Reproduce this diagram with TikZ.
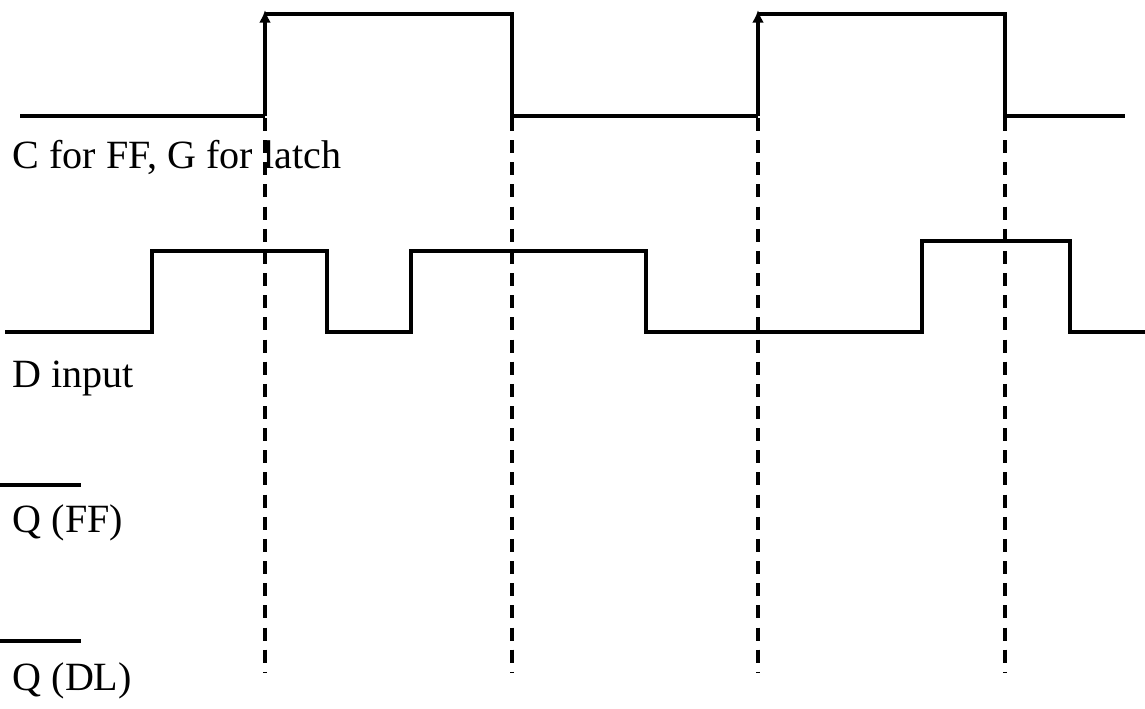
\documentclass[tikz,border=0pt]{standalone}
\usepackage{fontspec}
\setmainfont{Liberation Serif}
\usetikzlibrary{arrows.meta}
\begin{document}
\begin{tikzpicture}[
    x=0.01cm, y=-0.01cm,
    signal/.style={line width=1.1pt, line join=miter},
    front/.style={signal, -{Latex[length=3.6pt,width=3.4pt]}},
    repere/.style={line width=1.1pt, dash pattern=on 3.7pt off 2.6pt},
    etiquette/.style={anchor=base west, inner sep=0pt, font=\fontsize{11.4}{13}\selectfont}
]
\useasboundingbox (0,0) rectangle (1145,709);

% Horloge
\draw[signal] (20,116) -- (265,116);
\draw[front] (265,116) -- (265,10);
\draw[signal] (265,14) -- (512,14) -- (512,116) -- (758,116);
\draw[front] (758,116) -- (758,10);
\draw[signal] (758,14) -- (1005,14) -- (1005,116) -- (1125,116);

% Entree D
\draw[signal] (5,332) -- (152,332) -- (152,251) -- (327,251) -- (327,332)
    -- (411,332) -- (411,251) -- (646,251) -- (646,332) -- (922,332)
    -- (922,241) -- (1070,241) -- (1070,332) -- (1145,332);

% Reperes des fronts
\foreach \x in {265,512,758,1005}
    \draw[repere] (\x,118) -- (\x,672);

% Noms des signaux
\node[etiquette] (horloge) at (12,168) {C for FF, G for latch};
\node[etiquette] (donnee) at (12,387) {D input};
\node[etiquette] (qff) at (12,532) {Q (FF)};
\node[etiquette] (qdl) at (12,690) {Q (DL)};

% Barres au-dessus de Q
\draw[signal] (0,485) -- (81,485);
\draw[signal] (0,641) -- (81,641);

\end{tikzpicture}
\end{document}
